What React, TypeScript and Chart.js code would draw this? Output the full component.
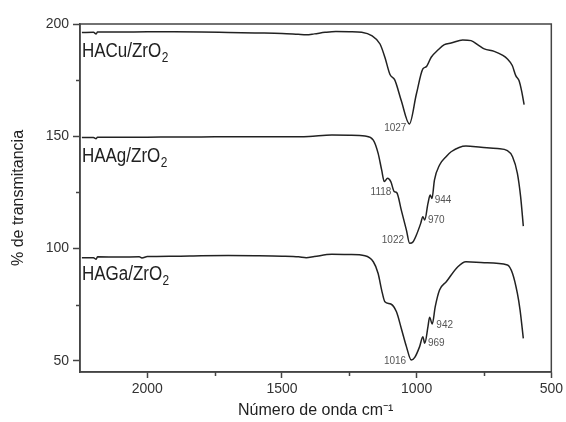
import React, { useEffect, useRef } from 'react';
import { Chart, registerables } from 'chart.js';

Chart.register(...registerables);

// Axis ticks
const xTicks = [2000, 1500, 1000, 500];
const xMinorTicks = [1750, 1250, 750];
const yTicks = [50, 100, 150, 200];
const yMinorTicks = [75, 125, 175];

// HACu/ZrO2
const cuX = [2243, 2200, 2190, 2185, 2100, 2000, 1900, 1800, 1700, 1600, 1500, 1440, 1410, 1380, 1340, 1300, 1250, 1204, 1167, 1136, 1118, 1099, 1081, 1057, 1027, 1001, 977, 964, 946, 920, 897, 872, 829, 798, 770, 749, 712, 680, 663, 645, 632, 620, 610, 601];
const cuY = [196.2, 196.3, 195.6, 196.4, 196.4, 196.5, 196.5, 196.4, 196.2, 196.0, 195.8, 195.4, 195.2, 195.6, 196.3, 196.7, 196.6, 196.3, 194.8, 191.1, 185.2, 177.5, 175.0, 165.8, 155.5, 168.8, 180.0, 181.0, 185.2, 188.5, 190.8, 191.5, 192.9, 192.6, 190.5, 188.9, 187.8, 186.0, 184.4, 181.5, 177.0, 174.8, 170.0, 164.1];

// HAAg/ZrO2
const agX = [2243, 2200, 2190, 2185, 2100, 2000, 1900, 1800, 1700, 1600, 1500, 1438, 1400, 1315, 1250, 1192, 1161, 1143, 1130, 1120, 1108, 1096, 1083, 1074, 1057, 1038, 1026, 1013, 1001, 985, 977, 970, 958, 950, 943, 934, 915, 890, 872, 817, 761, 700, 663, 644, 626, 614, 604];
const agY = [149.4, 149.5, 148.9, 149.6, 149.6, 149.6, 149.7, 149.7, 149.8, 149.8, 149.8, 149.8, 149.9, 150.6, 150.5, 150.1, 148.3, 142.4, 135.0, 129.8, 131.3, 129.8, 125.3, 124.9, 117.1, 108.2, 102.3, 103.0, 106.0, 111.2, 114.2, 112.7, 120.1, 123.8, 122.3, 130.5, 137.2, 141.0, 143.1, 145.7, 145.1, 144.5, 143.6, 140.9, 133.5, 123.1, 110.0];

// HAGa/ZrO2
const gaX = [2243, 2200, 2190, 2185, 2100, 2030, 2020, 2000, 1900, 1800, 1700, 1600, 1500, 1438, 1410, 1380, 1315, 1250, 1192, 1161, 1143, 1130, 1118, 1096, 1075, 1057, 1038, 1020, 1007, 989, 977, 970, 958, 952, 942, 931, 915, 890, 847, 817, 749, 663, 644, 626, 616, 604];
const gaY = [95.9, 95.9, 95.2, 96.3, 96.2, 96.3, 95.8, 96.4, 96.6, 96.8, 96.9, 96.8, 96.6, 96.3, 95.9, 96.4, 97.4, 97.3, 96.8, 94.1, 88.9, 81.5, 76.3, 75.3, 71.8, 64.4, 56.3, 50.3, 51.5, 56.3, 60.7, 57.8, 65.2, 69.4, 66.4, 74.1, 81.5, 85.2, 91.9, 94.1, 93.7, 92.7, 88.9, 80.0, 72.6, 60.0];

// Series labels (text + subscript)
const seriesNames = ['HACu/ZrO', 'HAAg/ZrO', 'HAGa/ZrO'];
const seriesSub = ['2', '2', '2'];
const seriesLabelX = [2243, 2243, 2243];
const seriesLabelY = [185.2, 138.7, 86.0];

// Peak annotations
const peakText = ['1027', '1118', '1022', '970', '944', '1016', '969', '942'];
const peakX = [1038, 1094, 1047, 958, 933, 1039, 958, 927];
const peakY = [153.5, 124.9, 103.8, 112.7, 121.6, 49.6, 58.0, 66.0];
const peakAlign = ['right', 'right', 'right', 'left', 'left', 'right', 'left', 'left'];

const FONT = "'Liberation Sans', Arial, Helvetica, sans-serif";
const AXIS = '#444';

const toPts = (xs: number[], ys: number[]) => xs.map((x, i) => ({ x, y: ys[i] }));

const decorPlugin = {
  id: 'decor',
  afterDraw(chart: any) {
    const { ctx, chartArea, scales } = chart;
    const xs = scales.x;
    const ys = scales.y;
    ctx.save();
    // frame
    ctx.strokeStyle = AXIS;
    ctx.lineWidth = 1.5;
    ctx.strokeRect(chartArea.left, chartArea.top, chartArea.right - chartArea.left, chartArea.bottom - chartArea.top);
    // minor ticks
    ctx.beginPath();
    xMinorTicks.forEach((v) => {
      const px = Math.round(xs.getPixelForValue(v)) + 0.5;
      ctx.moveTo(px, chartArea.bottom);
      ctx.lineTo(px, chartArea.bottom + 4);
    });
    yMinorTicks.forEach((v) => {
      const py = Math.round(ys.getPixelForValue(v)) + 0.5;
      ctx.moveTo(chartArea.left - 4, py);
      ctx.lineTo(chartArea.left, py);
    });
    ctx.stroke();

    // series labels
    ctx.fillStyle = '#222';
    ctx.textBaseline = 'alphabetic';
    ctx.textAlign = 'left';
    seriesNames.forEach((name, i) => {
      const px = xs.getPixelForValue(seriesLabelX[i]);
      const py = ys.getPixelForValue(seriesLabelY[i]);
      ctx.save();
      ctx.translate(px, py);
      ctx.scale(0.85, 1);
      ctx.font = `20px ${FONT}`;
      ctx.fillText(name, 0, 0);
      const w = ctx.measureText(name).width;
      ctx.font = `14px ${FONT}`;
      ctx.fillText(seriesSub[i], w + 0.5, 5);
      ctx.restore();
    });

    // peak labels
    ctx.fillStyle = '#555';
    ctx.font = `10px ${FONT}`;
    ctx.textBaseline = 'middle';
    peakText.forEach((t, i) => {
      ctx.textAlign = peakAlign[i] as CanvasTextAlign;
      ctx.fillText(t, xs.getPixelForValue(peakX[i]), ys.getPixelForValue(peakY[i]));
    });
    ctx.restore();
  },
};

export default function App() {
  const ref = useRef<HTMLCanvasElement | null>(null);
  useEffect(() => {
    if (!ref.current) return;
    const lineStyle = {
      borderColor: '#222',
      borderWidth: 1.5,
      pointRadius: 0,
      fill: false,
      cubicInterpolationMode: 'monotone' as const,
    };
    const chart = new Chart(ref.current, {
      type: 'line',
      data: {
        datasets: [
          { label: 'HACu/ZrO2', data: toPts(cuX, cuY), ...lineStyle },
          { label: 'HAAg/ZrO2', data: toPts(agX, agY), ...lineStyle },
          { label: 'HAGa/ZrO2', data: toPts(gaX, gaY), ...lineStyle },
        ],
      },
      options: {
        animation: false,
        responsive: true,
        maintainAspectRatio: false,
        layout: { padding: { top: 24, right: 12, left: 0, bottom: 0 } },
        plugins: { legend: { display: false }, tooltip: { enabled: false } },
        scales: {
          x: {
            type: 'linear',
            reverse: true,
            min: 500,
            max: 2250,
            afterBuildTicks: (s: any) => { s.ticks = xTicks.map((v) => ({ value: v })); },
            afterFit: (s: any) => { s.height = 50; },
            ticks: { color: '#333', font: { family: FONT, size: 14 }, padding: 3, maxRotation: 0, callback: (v: any) => String(v) },
            grid: { display: true, drawOnChartArea: false, drawTicks: true, tickLength: 6, tickColor: AXIS, tickWidth: 1.5 },
            border: { color: AXIS, width: 1.5 },
            title: { display: true, text: 'Número de onda cm⁻¹', color: '#222', font: { family: FONT, size: 16 }, padding: { top: 0, bottom: 2 } },
          },
          y: {
            type: 'linear',
            min: 45,
            max: 200,
            afterBuildTicks: (s: any) => { s.ticks = yTicks.map((v) => ({ value: v })); },
            afterFit: (s: any) => { s.width = 80; },
            ticks: { color: '#333', font: { family: FONT, size: 14 }, padding: 4, callback: (v: any) => String(v) },
            grid: { display: true, drawOnChartArea: false, drawTicks: true, tickLength: 7, tickColor: AXIS, tickWidth: 1.5 },
            border: { color: AXIS, width: 1.5 },
            title: { display: true, text: '% de transmitancia', color: '#222', font: { family: FONT, size: 16 }, padding: { top: 9, bottom: 0 } },
          },
        },
      },
      plugins: [decorPlugin],
    });
    return () => chart.destroy();
  }, []);
  return (
    <div style={{ position: 'fixed', left: 0, top: 0, width: 566, height: 422, background: '#fff' }}>
      <canvas ref={ref} />
    </div>
  );
}
